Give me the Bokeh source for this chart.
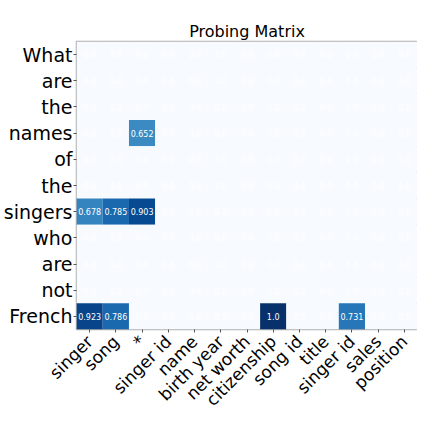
import math
import numpy as np
from bokeh.plotting import figure
from bokeh.models import ColumnDataSource, Range1d, FixedTicker, Title
from bokeh.embed import file_html
from bokeh.resources import INLINE
from bokeh.core.properties import value

rows = ["What", "are", "the", "names", "of", "the", "singers", "who", "are", "not", "French"]
cols = ["singer", "song", "*", "singer id", "name", "birth year", "net worth",
        "citizenship", "song id", "title", "singer id", "sales", "position"]

row_what    = [0, 0, 0, 0, 0, 0, 0, 0, 0, 0, 0, 0, 0]
row_are     = [0, 0, 0, 0, 0, 0, 0, 0, 0, 0, 0, 0, 0]
row_the     = [0, 0, 0, 0, 0, 0, 0, 0, 0, 0, 0, 0, 0]
row_names   = [0, 0, 0.652, 0, 0, 0, 0, 0, 0, 0, 0, 0, 0]
row_of      = [0, 0, 0, 0, 0, 0, 0, 0, 0, 0, 0, 0, 0]
row_the2    = [0, 0, 0, 0, 0, 0, 0, 0, 0, 0, 0, 0, 0]
row_singers = [0.678, 0.785, 0.903, 0, 0, 0, 0, 0, 0, 0, 0, 0, 0]
row_who     = [0, 0, 0, 0, 0, 0, 0, 0, 0, 0, 0, 0, 0]
row_are2    = [0, 0, 0, 0, 0, 0, 0, 0, 0, 0, 0, 0, 0]
row_not     = [0, 0, 0, 0, 0, 0, 0, 0, 0, 0, 0, 0, 0]
row_french  = [0.923, 0.786, 0, 0, 0, 0, 0, 1.0, 0, 0, 0.731, 0, 0]

matrix = [row_what, row_are, row_the, row_names, row_of, row_the2, row_singers,
          row_who, row_are2, row_not, row_french]

# matplotlib "Blues" colormap anchors
blues = ["#f7fbff", "#deebf7", "#c6dbef", "#9ecae1", "#6baed6",
         "#4292c6", "#2171b5", "#08519c", "#08306b"]
anchors = np.linspace(0, 1, len(blues))
rgb = np.array([[int(c[i:i + 2], 16) for i in (1, 3, 5)] for c in blues], dtype=float)

def cmap(v):
    r = np.interp(v, anchors, rgb[:, 0])
    g = np.interp(v, anchors, rgb[:, 1])
    b = np.interp(v, anchors, rgb[:, 2])
    return "#%02x%02x%02x" % (int(round(r)), int(round(g)), int(round(b)))

xs, ys, colors, labels = [], [], [], []
for i, row in enumerate(matrix):
    for j, v in enumerate(row):
        xs.append(j)
        ys.append(i)
        colors.append(cmap(v))
        labels.append(str(round(float(v), 3)))

src = ColumnDataSource(dict(x=xs, y=ys, color=colors, label=labels))

p = figure(frame_width=341, frame_height=288, output_backend="svg", toolbar_location=None,
           x_range=Range1d(-0.5, len(cols) - 0.5),
           y_range=Range1d(len(rows) - 0.5, -0.5),
           title=None)
p.min_border_left = 70
p.min_border_right = 0
p.min_border_top = 0
p.min_border_bottom = 80

main_title = Title(text="Probing Matrix", align="center", text_font="DejaVu Sans",
                   text_font_size="16px", text_font_style="normal",
                   text_color="black", standoff=1)
spacer = Title(text=" ", text_font_size="15px", standoff=0)
p.add_layout(main_title, "above")
p.add_layout(spacer, "above")

p.rect(x="x", y="y", width=1, height=1, source=src, fill_color="color",
       line_color=None)
p.text(x="x", y="y", text="label", source=src, text_color="white",
       text_align="center", text_baseline="middle", text_font_size="8px",
       text_font=value("DejaVu Sans"))

p.grid.visible = False
p.outline_line_color = "#b0b0b0"
p.outline_line_width = 1.5

p.xaxis.ticker = FixedTicker(ticks=list(range(len(cols))))
p.xaxis.major_label_overrides = {i: c for i, c in enumerate(cols)}
p.xaxis.major_label_orientation = math.pi / 4
p.xaxis.major_label_text_font_size = "17px"

p.yaxis.ticker = FixedTicker(ticks=list(range(len(rows))))
p.yaxis.major_label_overrides = {i: r for i, r in enumerate(rows)}
p.yaxis.major_label_text_font_size = "19px"

for ax in (p.xaxis, p.yaxis):
    ax.axis_line_color = None
    ax.major_tick_line_color = "#555555"
    ax.major_tick_in = 0
    ax.major_tick_out = 3
    ax.minor_tick_line_color = None
    ax.major_label_text_font = "DejaVu Sans"
    ax.major_label_text_color = "black"
    ax.major_label_standoff = 1

p.xaxis.major_label_standoff = 6

open("out.html", "w").write(file_html(p, INLINE))
